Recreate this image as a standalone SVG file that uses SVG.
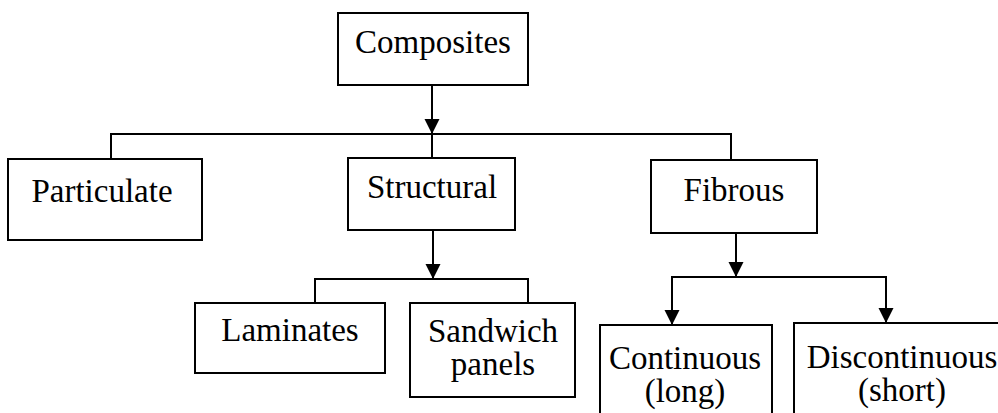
<svg xmlns="http://www.w3.org/2000/svg" width="998" height="413" viewBox="0 0 998 413">
<style>
.box{fill:#fff;stroke:#000;stroke-width:2}
.ln{fill:none;stroke:#000;stroke-width:2}
.t{font-family:"Liberation Serif","Times New Roman",serif;font-size:33px;fill:#000;text-anchor:middle}
</style>
<defs>
<marker id="ah" markerUnits="userSpaceOnUse" markerWidth="16" markerHeight="16" refX="15" refY="7.5" orient="auto">
<path d="M0,0 L15,7.5 L0,15 z" fill="#000"/>
</marker>
</defs>
<rect width="998" height="413" fill="#fff"/>
<g id="connectors">
<line class="ln" x1="432" y1="85" x2="432" y2="134" marker-end="url(#ah)"/>
<path class="ln" d="M111,159 V134 H731 V160 M432,134 V158"/>
<line class="ln" x1="433" y1="230" x2="433" y2="279" marker-end="url(#ah)"/>
<path class="ln" d="M315,303 V279 H528 V303"/>
<line class="ln" x1="736" y1="233" x2="736" y2="277" marker-end="url(#ah)"/>
<line class="ln" x1="672" y1="277" x2="886" y2="277"/>
<line class="ln" x1="672" y1="276" x2="672" y2="325" marker-end="url(#ah)"/>
<line class="ln" x1="886" y1="276" x2="886" y2="323" marker-end="url(#ah)"/>
</g>
<g id="composites">
<rect class="box" x="338" y="13" width="190" height="72"/>
<text class="t" x="433" y="53">Composites</text>
</g>
<g id="particulate">
<rect class="box" x="8" y="159" width="194" height="81"/>
<text class="t" x="102" y="202">Particulate</text>
</g>
<g id="structural">
<rect class="box" x="348" y="158" width="167" height="72"/>
<text class="t" x="432" y="198">Structural</text>
</g>
<g id="fibrous">
<rect class="box" x="651" y="160" width="166" height="73"/>
<text class="t" x="734" y="201">Fibrous</text>
</g>
<g id="laminates">
<rect class="box" x="195" y="303" width="190" height="70"/>
<text class="t" x="290" y="341">Laminates</text>
</g>
<g id="sandwich">
<rect class="box" x="410" y="303" width="165" height="94"/>
<text class="t" x="493" y="342">Sandwich</text>
<text class="t" x="493" y="375">panels</text>
</g>
<g id="continuous">
<rect class="box" x="600" y="325" width="172" height="110"/>
<text class="t" x="685" y="369">Continuous</text>
<text class="t" x="685" y="402">(long)</text>
</g>
<g id="discontinuous">
<rect class="box" x="794" y="323" width="220" height="110"/>
<text class="t" x="902" y="368">Discontinuous</text>
<text class="t" x="902" y="401">(short)</text>
</g>
</svg>
